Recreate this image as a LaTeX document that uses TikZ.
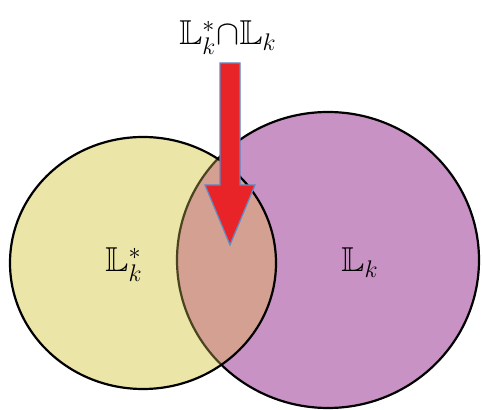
\documentclass[tikz,border=0pt]{standalone}
\usepackage{amssymb}
\definecolor{yfill}{RGB}{236,229,168}
\definecolor{pfill}{RGB}{201,146,196}
\definecolor{lfill}{RGB}{212,160,146}
\definecolor{olive}{RGB}{75,68,32}
\definecolor{ared}{RGB}{232,36,40}
\definecolor{ablue}{RGB}{95,140,200}
\tikzset{
  outline/.style={line width=1.1pt},
  lbl/.style={font=\LARGE, inner sep=0pt, anchor=base}
}
\begin{document}
\begin{tikzpicture}[x=0.5pt,y=-0.5pt]
\useasboundingbox (0,0) rectangle (482,410);
\def\ypath{(143,263) ellipse[x radius=66.5pt, y radius=63pt]}
\def\ppath{(328,260) ellipse[x radius=75.5pt, y radius=74pt]}
% purple
\fill[pfill] \ppath;
\draw[outline] \ppath;
% yellow
\fill[yfill] \ypath;
\begin{scope}
  \clip \ypath;
  \fill[lfill] \ppath;
  \draw[outline, olive] \ppath;
\end{scope}
\draw[outline] \ypath;
% labels
\node[lbl] (top) at (228,45) {$\mathbb{L}_k^*{\mathord{\cap}}\mathbb{L}_k$};
\node[lbl] (ystar) at (124,272) {$\mathbb{L}_k^*$};
\node[lbl] (lk) at (360,272) {$\mathbb{L}_k$};
% arrow
\draw[fill=ared, draw=ablue, line width=0.6pt, line join=miter]
  (220,63) -- (240,63) -- (240,185) -- (255,185) -- (230,245)
  -- (205,185) -- (220,185) -- cycle;
\end{tikzpicture}
\end{document}
